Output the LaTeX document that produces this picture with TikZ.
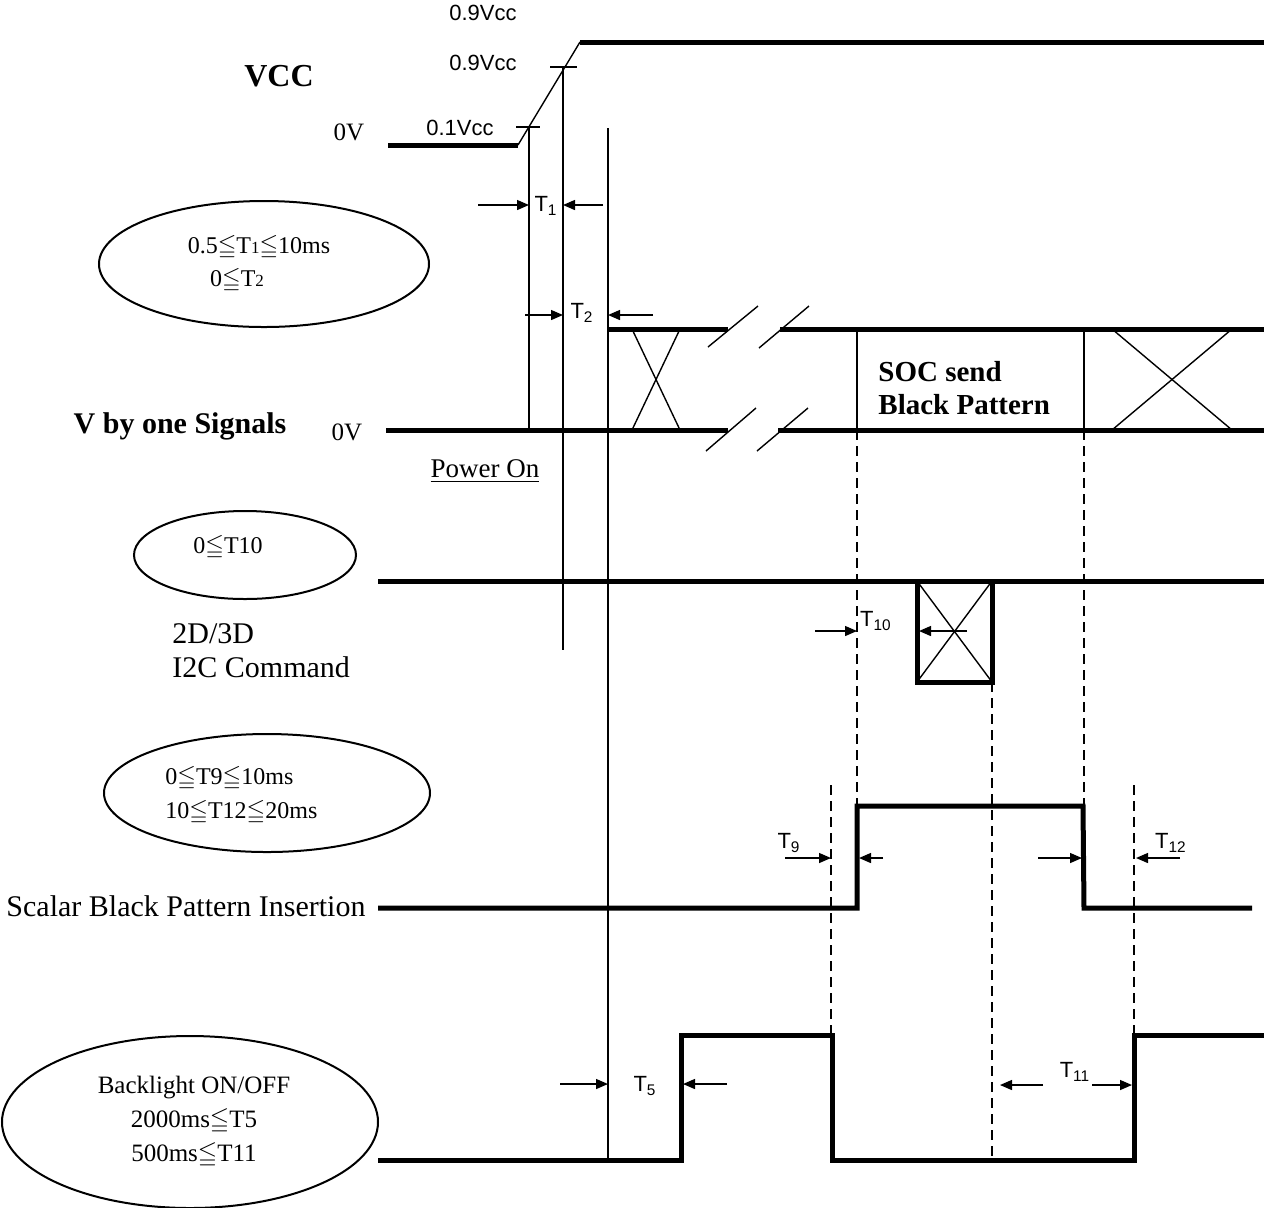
\documentclass[tikz,border=0pt]{standalone}
\usepackage{amsmath,amssymb}
\usepackage{fontspec}
\setmainfont{Liberation Serif}
\setsansfont{Liberation Sans}
\usetikzlibrary{arrows.meta}
\newcommand{\tdig}[1]{{\fontsize{8.5}{8.5}\selectfont #1}}
\tikzset{
    wave/.style={line width=2.5pt, line cap=butt, line join=miter},
    thinline/.style={line width=0.7pt},
    guide/.style={line width=0.6pt, dash pattern=on 5pt off 3pt},
    oval/.style={line width=1pt},
    dimarrow/.style={-{Triangle[length=6pt,width=5pt]}, line width=0.7pt},
    sigtext/.style={font=\fontsize{15}{17}\selectfont, inner sep=0pt},
    sigbold/.style={font=\fontsize{15}{16.5}\selectfont\bfseries, inner sep=0pt},
    ovaltext/.style={font=\fontsize{12}{17}\selectfont, inner sep=0pt},
    tlabel/.style={font=\sffamily\fontsize{11}{12}\selectfont, inner sep=0pt}
}
\begin{document}
\begin{tikzpicture}[x=0.5pt, y=-0.5pt]
    \useasboundingbox (0,0) rectangle (1264,1207);
    % VCC
    \draw[wave] (388,145) -- (518,145);
    \draw[thinline] (518,145) -- (580,42);
    \draw[wave] (580,42) -- (1264,42);
    \draw[thinline] (516,127) -- (540,127);
    \draw[thinline] (550,67) -- (577,67);
    \node[tlabel] (vtop) at (483,13) {0.9Vcc};
    \node[tlabel] (vhi) at (483,63) {0.9Vcc};
    \node[tlabel] (vlo) at (460,128) {0.1Vcc};
    \node[sigbold, font=\fontsize{16}{17}\selectfont\bfseries] (vcc) at (279,76) {VCC};
    \node[sigtext, font=\fontsize{12.5}{14}\selectfont] (vcczero) at (349,132) {0V};
    % guide lines
    \draw[thinline] (529,127) -- (529,430);
    \draw[thinline] (563,67) -- (563,650);
    \draw[thinline] (608,128) -- (608,1160);
    \draw[guide] (857,430) -- (857,806);
    \draw[guide] (1084,430) -- (1084,806);
    \draw[guide] (992,682) -- (992,1160);
    \draw[guide] (831,785) -- (831,1035);
    \draw[guide] (1134,785) -- (1134,1035);
    % T1, T2
    \draw[dimarrow] (478,205) -- (529,205);
    \draw[dimarrow] (603,205) -- (563,205);
    \node[tlabel] (tone) at (546,206) {T\textsubscript{1}};
    \draw[dimarrow] (525,315) -- (563,315);
    \draw[dimarrow] (653,315) -- (608,315);
    \node[tlabel] (ttwo) at (582,313) {T\textsubscript{2}};
    \draw[oval] (264,264) ellipse [x radius=165, y radius=63];
    \node[ovaltext] (ovone) at (259,247) {0.5$\leqq$T\tdig{1}$\leqq$10ms};
    \node[ovaltext] (ovtwo) at (237,280) {0$\leqq$T\tdig{2}};
    % V by one
    \draw[wave] (608,329) -- (728,329);
    \draw[wave] (780,329) -- (1264,329);
    \draw[wave] (386,430) -- (728,430);
    \draw[wave] (778,430) -- (1264,430);
    \draw[thinline] (708,347) -- (758,306);
    \draw[thinline] (759,348) -- (809,306);
    \draw[thinline] (706,451) -- (756,408);
    \draw[thinline] (757,451) -- (808,408);
    \draw[thinline] (632,329) -- (680,430);
    \draw[thinline] (680,329) -- (632,430);
    \draw[thinline] (1112,329) -- (1232,430);
    \draw[thinline] (1232,329) -- (1112,430);
    \draw[thinline] (857,329) -- (857,430);
    \draw[thinline] (1084,329) -- (1084,430);
    \node[sigbold, font=\fontsize{14.5}{16.5}\selectfont\bfseries, anchor=west, align=left] (soc) at (878,388) {SOC send\\Black Pattern};
    \node[sigbold] (vbyone) at (180,426) {V by one Signals};
    \node[sigtext, font=\fontsize{12.5}{14}\selectfont] (vbzero) at (347,432) {0V};
    \node[sigtext, font=\fontsize{13.5}{15}\selectfont] (poweron) at (485,471) {\underline{Power On}};
    % I2C command
    \draw[oval] (245,555) ellipse [x radius=111, y radius=44];
    \node[ovaltext] (ovten) at (228,547) {0$\leqq$T10};
    \node[sigtext, anchor=west, align=left] (itwoc) at (172,651) {2D/3D\\I2C Command};
    \draw[wave] (378,581) -- (1264,581);
    \draw[wave] (917,581) rectangle (992,682);
    \draw[thinline] (917,581) -- (992,682);
    \draw[thinline] (992,581) -- (917,682);
    \draw[dimarrow] (815,631) -- (857,631);
    \draw[dimarrow] (967,631) -- (919,631);
    \node[tlabel] (tten) at (876,621) {T\textsubscript{10}};
    % scalar black pattern insertion
    \draw[oval] (267,793) ellipse [x radius=163, y radius=59];
    \node[ovaltext, anchor=west, align=left] (ovnine) at (165,795) {0$\leqq$T9$\leqq$10ms\\10$\leqq$T12$\leqq$20ms};
    \node[sigtext] (scalar) at (186,906) {Scalar Black Pattern Insertion};
    \draw[wave] (378,908) -- (857,908) -- (857,806) -- (1083,806) -- (1084,908) -- (1252,908);
    \draw[dimarrow] (785,858) -- (831,858);
    \draw[dimarrow] (883,858) -- (859,858);
    \node[tlabel] (tnine) at (789,843) {T\textsubscript{9}};
    \draw[dimarrow] (1038,858) -- (1082,858);
    \draw[dimarrow] (1180,858) -- (1136,858);
    \node[tlabel] (ttwelve) at (1171,843) {T\textsubscript{12}};
    % backlight
    \draw[oval] (190,1122) ellipse [x radius=188, y radius=86];
    \node[ovaltext, font=\fontsize{12.5}{17}\selectfont, align=center] (ovback) at (194,1122) {Backlight ON/OFF\\2000ms$\leqq$T5\\500ms$\leqq$T11};
    \draw[wave] (378,1160) -- (681,1160) -- (681,1035) -- (832,1035) -- (832,1160) -- (1134,1160) -- (1134,1035) -- (1264,1035);
    \draw[dimarrow] (560,1084) -- (608,1084);
    \draw[dimarrow] (727,1084) -- (683,1084);
    \node[tlabel] (tfive) at (645,1086) {T\textsubscript{5}};
    \draw[dimarrow] (1043,1085) -- (1000,1085);
    \draw[dimarrow] (1092,1085) -- (1132,1085);
    \node[tlabel] (televen) at (1075,1072) {T\textsubscript{11}};
\end{tikzpicture}
\end{document}
